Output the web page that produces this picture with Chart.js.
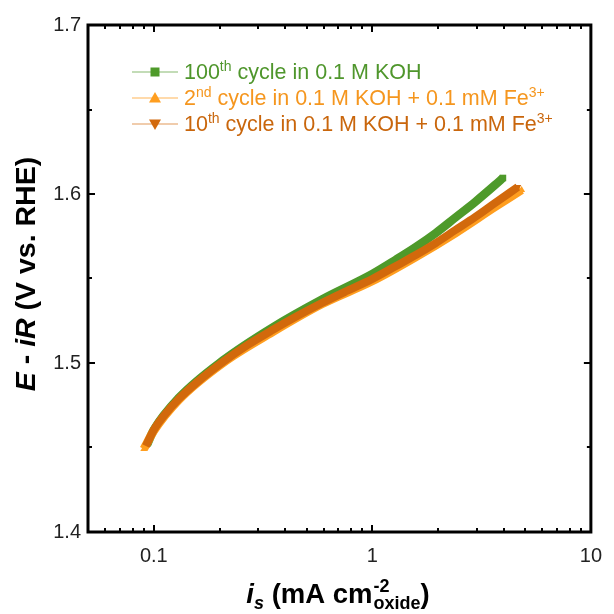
<!DOCTYPE html>
<html><head><meta charset="utf-8">
<script src="https://cdn.jsdelivr.net/npm/chart.js@4.4.0/dist/chart.umd.min.js"></script>
<style>html,body{margin:0;padding:0;background:#fff}#wrap{width:614px;height:614px}</style>
</head><body><div id="wrap"><canvas id="c" width="614" height="614"></canvas></div>
<script>
// ---- data ----
const cycle100X = [0.093, 0.100, 0.130, 0.207, 0.349, 0.588, 1.00, 1.284, 1.58, 1.95, 2.40, 2.955, 3.64, 3.96];
const cycle100Y = [1.4515, 1.4604, 1.4793, 1.5015, 1.5210, 1.5376, 1.5527, 1.5612, 1.5686, 1.5769, 1.5861, 1.5953, 1.6053, 1.6095];

const cycle2X = [0.090, 0.100, 0.130, 0.207, 0.349, 0.588, 1.00, 1.58, 2.40, 3.64, 4.82];
const cycle2Y = [1.4491, 1.4598, 1.4781, 1.5000, 1.5183, 1.5349, 1.5485, 1.5627, 1.5769, 1.5923, 1.6024];

const cycle10X = [0.092, 0.100, 0.111, 0.130, 0.160, 0.207, 0.269, 0.349, 0.453, 0.588, 0.763, 1.00, 1.284, 1.58, 1.95, 2.40, 2.955, 3.64, 4.63];
const cycle10Y = [1.4509, 1.4604, 1.4686, 1.4787, 1.4893, 1.5006, 1.5107, 1.5195, 1.5278, 1.5355, 1.5426, 1.5497, 1.5574, 1.5639, 1.5710, 1.5787, 1.5864, 1.5947, 1.6041];

const seriesNames = ["100th cycle in 0.1 M KOH", "2nd cycle in 0.1 M KOH + 0.1 mM Fe3+", "10th cycle in 0.1 M KOH + 0.1 mM Fe3+"];
const legendParts = [
  [["100","n"],["th","sup"],[" cycle in 0.1 M KOH","n"]],
  [["2","n"],["nd","sup"],[" cycle in 0.1 M KOH + 0.1 mM Fe","n"],["3+","sup"]],
  [["10","n"],["th","sup"],[" cycle in 0.1 M KOH + 0.1 mM Fe","n"],["3+","sup"]]
];
const xTickValues = [0.1, 1, 10];
const xTickLabels = ["0.1", "1", "10"];
const xMinorTicks = [0.06,0.07,0.08,0.09,0.2,0.3,0.4,0.5,0.6,0.7,0.8,0.9,2,3,4,5,6,7,8,9];
const yTickValues = [1.4, 1.5, 1.6, 1.7];
const yTickLabels = ["1.4", "1.5", "1.6", "1.7"];
const yMinorTicks = [1.45, 1.55, 1.65];

// ---- styles ----
const colGreen = '#4e9a2a', colLight = '#ff9e1f', colDark = '#d2690c';
const txtGreen = '#4f962c', txtLight = '#f5961e', txtDark = '#c9660c';
const FONT = '"Liberation Sans", Arial, sans-serif';

function pts(xs, ys){ return xs.map((x,i)=>({x:x, y:ys[i]})); }
function radii(n, first, last){ return Array.from({length:n},(_, i)=> (i===0?first:(i===n-1?last:0))); }

const frameTicks = {
  id:'frameTicks',
  afterDatasetsDraw(chart){
    const ctx = chart.ctx, a = chart.chartArea, xs = chart.scales.x, ys = chart.scales.y;
    ctx.save();
    ctx.strokeStyle = '#000';
    ctx.lineWidth = 2;
    const tick = (px, len, vertical) => {
      ctx.beginPath();
      if (vertical){
        ctx.moveTo(px, a.bottom); ctx.lineTo(px, a.bottom - len);
        ctx.moveTo(px, a.top); ctx.lineTo(px, a.top + len);
      } else {
        ctx.moveTo(a.left, px); ctx.lineTo(a.left + len, px);
        ctx.moveTo(a.right, px); ctx.lineTo(a.right - len, px);
      }
      ctx.stroke();
    };
    xTickValues.forEach(v=>tick(Math.round(xs.getPixelForValue(v)), 7, true));
    xMinorTicks.forEach(v=>tick(Math.round(xs.getPixelForValue(v)), 4, true));
    yTickValues.forEach(v=>tick(Math.round(ys.getPixelForValue(v)), 7, false));
    yMinorTicks.forEach(v=>tick(Math.round(ys.getPixelForValue(v)), 4, false));
    ctx.lineWidth = 3;
    ctx.strokeRect(a.left, a.top, a.right - a.left, a.bottom - a.top);
    ctx.restore();
  }
};

function drawParts(ctx, parts, x, y, size, color){
  ctx.fillStyle = color;
  let cx = x;
  parts.forEach(([t, k])=>{
    if (k === 'sup'){
      ctx.font = `${Math.round(size*0.64)}px ${FONT}`;
      ctx.fillText(t, cx, y - size*0.38);
    } else {
      ctx.font = `${size}px ${FONT}`;
      ctx.fillText(t, cx, y);
    }
    cx += ctx.measureText(t).width;
  });
}

const legendPlugin = {
  id:'customLegend',
  afterDraw(chart){
    const ctx = chart.ctx;
    const rows = [72, 98, 124];
    const lineCols = ['rgba(78,154,42,0.45)','rgba(255,158,31,0.5)','rgba(210,105,12,0.45)'];
    const markCols = [colGreen, colLight, colDark];
    const txtCols = [txtGreen, txtLight, txtDark];
    ctx.save();
    rows.forEach((ry, i)=>{
      ctx.strokeStyle = lineCols[i]; ctx.lineWidth = 1.5;
      ctx.beginPath(); ctx.moveTo(132, ry); ctx.lineTo(178, ry); ctx.stroke();
      ctx.fillStyle = markCols[i];
      const mx = 155;
      ctx.beginPath();
      if (i===0){ ctx.rect(mx-4.5, ry-4.5, 9, 9); }
      else if (i===1){ ctx.moveTo(mx, ry-6); ctx.lineTo(mx+6, ry+4.5); ctx.lineTo(mx-6, ry+4.5); ctx.closePath(); }
      else { ctx.moveTo(mx, ry+6); ctx.lineTo(mx+6, ry-4.5); ctx.lineTo(mx-6, ry-4.5); ctx.closePath(); }
      ctx.fill();
      ctx.textBaseline = 'alphabetic';
      drawParts(ctx, legendParts[i], 184, ry + 7, 21.5, txtCols[i]);
    });
    ctx.restore();
  }
};

const titlePlugin = {
  id:'axisTitles',
  afterDraw(chart){
    const ctx = chart.ctx, a = chart.chartArea;
    ctx.save();
    ctx.fillStyle = '#000';
    ctx.textBaseline = 'alphabetic';
    // y title
    const ySeg = [["E","italic bold"],[" - ","bold"],["iR","italic bold"],[" (V vs. RHE)","bold"]];
    const ys = 28.5;
    let tot = 0;
    ySeg.forEach(([t,f])=>{ ctx.font = `${f} ${ys}px ${FONT}`; tot += ctx.measureText(t).width; });
    ctx.translate(35, 274);
    ctx.rotate(-Math.PI/2);
    let cx = -tot/2;
    ySeg.forEach(([t,f])=>{ ctx.font = `${f} ${ys}px ${FONT}`; ctx.fillText(t, cx, 0); cx += ctx.measureText(t).width; });
    ctx.setTransform(1,0,0,1,0,0);
    // x title
    const big = 27.5, small = 18, base = 603;
    const segs = [];
    ctx.font = `italic bold ${big}px ${FONT}`; segs.push({t:'i', f:ctx.font, w:ctx.measureText('i').width, dy:0});
    ctx.font = `italic bold ${small}px ${FONT}`; segs.push({t:'s', f:ctx.font, w:ctx.measureText('s').width, dy:6});
    ctx.font = `bold ${big}px ${FONT}`; segs.push({t:' (mA cm', f:ctx.font, w:ctx.measureText(' (mA cm').width, dy:0});
    ctx.font = `bold ${small}px ${FONT}`;
    const wSup = ctx.measureText('-2').width, wSub = ctx.measureText('oxide').width;
    segs.push({stack:true, f:ctx.font, w:Math.max(wSup,wSub)+1});
    ctx.font = `bold ${big}px ${FONT}`; segs.push({t:')', f:ctx.font, w:ctx.measureText(')').width, dy:0});
    const totalW = segs.reduce((s,g)=>s+g.w,0);
    let x = 338 - totalW/2;
    segs.forEach(g=>{
      ctx.font = g.f;
      if (g.stack){
        ctx.fillText('-2', x+1, base - 11);
        ctx.fillText('oxide', x+1, base + 6);
      } else {
        ctx.fillText(g.t, x, base + g.dy);
      }
      x += g.w;
    });
    ctx.restore();
  }
};

new Chart(document.getElementById('c'), {
  type:'line',
  data:{
    datasets:[
      { label: seriesNames[0], data: pts(cycle100X, cycle100Y), borderColor: colGreen, backgroundColor: colGreen,
        borderWidth: 8.5, pointStyle:'rect', pointBorderWidth:0, pointRadius: radii(cycle100X.length, 0, 4.6), order: 3 },
      { label: seriesNames[1], data: pts(cycle2X, cycle2Y), borderColor: colLight, backgroundColor: colLight,
        borderWidth: 8.5, pointStyle:'triangle', pointBorderWidth:0, pointRadius: radii(cycle2X.length, 4, 4), order: 2 },
      { label: seriesNames[2], data: pts(cycle10X, cycle10Y), borderColor: colDark, backgroundColor: colDark,
        borderWidth: 8, pointStyle:'triangle', pointBorderWidth:0, pointRotation: 180, pointRadius: radii(cycle10X.length, 0, 4), order: 1 }
    ]
  },
  options:{
    responsive:false, animation:false, devicePixelRatio:1,
    layout:{ padding:{ top:25, right:16, left:0, bottom:0 } },
    elements:{ line:{ cubicInterpolationMode:'monotone', borderCapStyle:'butt', borderJoinStyle:'round' },
               point:{ borderWidth:0, hoverRadius:0 } },
    plugins:{ legend:{display:false}, tooltip:{enabled:false} },
    scales:{
      x:{ type:'logarithmic', min:0.05, max:10, position:'bottom',
          grid:{display:false, drawTicks:false}, border:{display:false},
          afterBuildTicks: s => { s.ticks = xTickValues.map(v=>({value:v})); },
          afterFit: s => { s.height = 82; },
          ticks:{ autoSkip:false, maxRotation:0, padding:12, color:'#222', font:{family:FONT, size:20},
                  callback: (v) => xTickLabels[xTickValues.indexOf(v)] ?? '' } },
      y:{ type:'linear', min:1.4, max:1.7,
          grid:{display:false, drawTicks:false}, border:{display:false},
          afterBuildTicks: s => { s.ticks = yTickValues.map(v=>({value:v})); },
          afterFit: s => { s.width = 88; },
          ticks:{ autoSkip:false, padding:7, color:'#222', font:{family:FONT, size:20},
                  callback: (v) => { const i = yTickValues.findIndex(t=>Math.abs(t-v)<1e-9); return i>=0 ? yTickLabels[i] : ''; } } }
    }
  },
  plugins:[frameTicks, legendPlugin, titlePlugin]
});
</script>
</body></html>
